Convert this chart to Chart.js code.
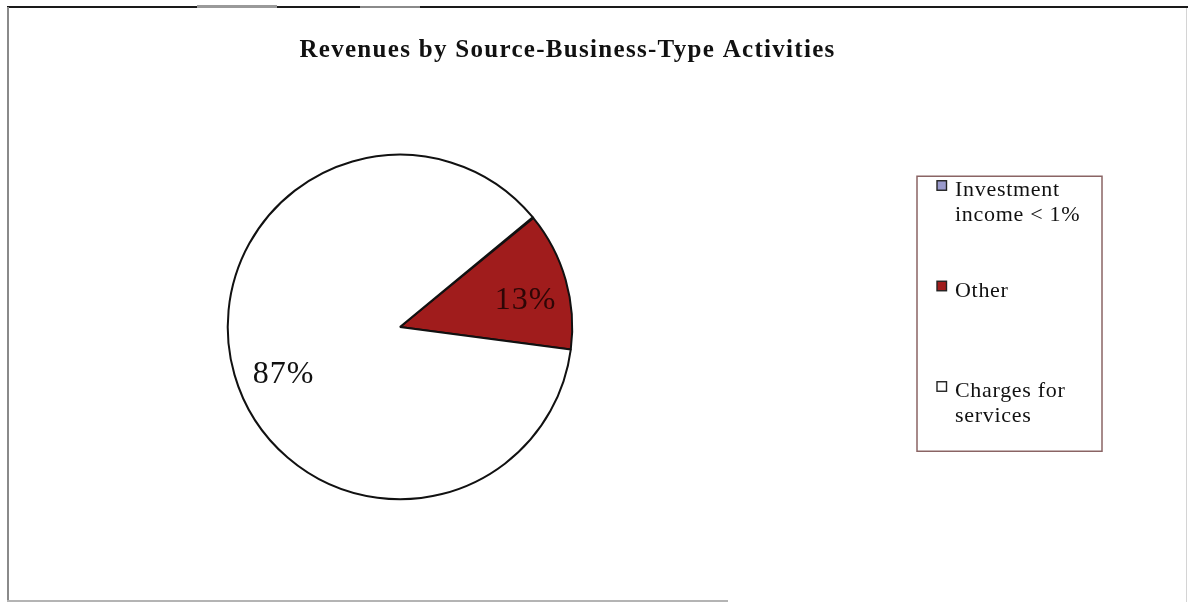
<!DOCTYPE html>
<html><head><meta charset="utf-8">
<script src="https://cdn.jsdelivr.net/npm/chart.js@4.4.1/dist/chart.umd.min.js"></script>
<style>
html,body{margin:0;padding:0;background:#fff;}
#wrap{position:relative;width:1188px;height:602px;overflow:hidden;background:#fff;}
#c{position:absolute;left:0;top:0;}
.ln{position:absolute;}
</style></head><body>
<div id="wrap">
<canvas id="c" width="1188" height="602"></canvas>
<div class="ln" style="left:7px;top:6px;width:190px;height:2px;background:#1a1a1a"></div>
<div class="ln" style="left:197px;top:5px;width:80px;height:3px;background:#9a9a9a"></div>
<div class="ln" style="left:277px;top:6px;width:83px;height:2px;background:#1a1a1a"></div>
<div class="ln" style="left:360px;top:6px;width:60px;height:2px;background:#8a8a8a"></div>
<div class="ln" style="left:420px;top:6px;width:768px;height:2px;background:#1a1a1a"></div>
<div class="ln" style="left:7px;top:7px;width:2px;height:595px;background:#8a8a8a"></div>
<div class="ln" style="left:7px;top:600px;width:721px;height:1.5px;background:#b4b4b4"></div>
<div class="ln" style="left:1186px;top:8px;width:1px;height:594px;background:#d4d4d4"></div>
</div>
<script>
// ---- data ----
const chartTitle = 'Revenues by Source-Business-Type Activities';
const categories = [['Investment', 'income < 1%'], ['Other'], ['Charges for', 'services']];
const shares = [0.1, 13, 87];
const sliceLabels = ['', '13%', '87%'];

// ---- styles ----
const sliceColors = ['#9a9acc', '#a01c1c', '#ffffff'];
const labelColors = ['#111', '#2e0606', '#111'];

Chart.defaults.font.family = '"Liberation Serif", "Times New Roman", serif';

const titleSpacing = {
  id: 'titleSpacing',
  beforeDraw(chart) { chart.ctx.letterSpacing = '1.3px'; },
  afterDraw(chart) { chart.ctx.letterSpacing = '0px'; }
};

function drawLegend(chart, box) {
  const ctx = chart.ctx;
  const fx = box.left + 125, fy = box.top + 22.5, fw = 185, fh = 275;
  const ds = chart.data.datasets[0];
  ctx.save();
  ctx.letterSpacing = '0.7px';
  ctx.strokeStyle = '#8a6464';
  ctx.lineWidth = 1.5;
  ctx.strokeRect(fx, fy, fw, fh);
  ctx.font = '22px "Liberation Serif"';
  ctx.textAlign = 'left';
  ctx.textBaseline = 'alphabetic';
  chart.data.labels.forEach((lines, i) => {
    const base = fy + 20 + i * 100.5;
    ctx.fillStyle = ds.backgroundColor[i];
    ctx.fillRect(fx + 20, base - 15.5, 9.5, 9.5);
    ctx.strokeStyle = '#222';
    ctx.lineWidth = 1.4;
    ctx.strokeRect(fx + 20, base - 15.5, 9.5, 9.5);
    ctx.fillStyle = '#111';
    lines.forEach((t, j) => ctx.fillText(t, fx + 38, base + j * 25));
  });
  ctx.restore();
}

const legendBox = {
  id: 'legendBox',
  beforeInit(chart) {
    const box = {
      position: 'right', weight: 0, fullSize: false, options: {},
      left: 0, top: 0, right: 0, bottom: 0, width: 0, height: 0,
      isHorizontal() { return false; },
      update(maxWidth, maxHeight) { this.width = 335; this.height = maxHeight; },
      draw() { drawLegend(chart, this); }
    };
    Chart.layouts.addBox(chart, box);
  }
};

const sliceLabelPlugin = {
  id: 'sliceLabels',
  afterDatasetsDraw(chart) {
    const ctx = chart.ctx;
    const meta = chart.getDatasetMeta(0);
    const nudge = [[0, 0], [3, 8], [6, 12]];
    ctx.save();
    ctx.letterSpacing = '1px';
    ctx.font = '32px "Liberation Serif"';
    ctx.textAlign = 'center';
    ctx.textBaseline = 'middle';
    meta.data.forEach((arc, i) => {
      const text = sliceLabels[i];
      if (!text) return;
      const p = arc.getProps(['x', 'y', 'startAngle', 'endAngle', 'outerRadius'], true);
      const mid = (p.startAngle + p.endAngle) / 2;
      const r = p.outerRadius * 0.74;
      ctx.fillStyle = labelColors[i];
      ctx.fillText(text, p.x + Math.cos(mid) * r + nudge[i][0], p.y + Math.sin(mid) * r + nudge[i][1]);
    });
    ctx.restore();
  }
};

new Chart(document.getElementById('c'), {
  type: 'pie',
  data: {
    labels: categories,
    datasets: [{
      data: shares,
      backgroundColor: sliceColors,
      borderColor: '#111',
      borderWidth: 2,
      hoverOffset: 0
    }]
  },
  options: {
    responsive: false,
    animation: false,
    events: [],
    rotation: 50.4,
    layout: { padding: { left: 8, right: 61, top: 0, bottom: 101.75 } },
    plugins: {
      legend: { display: false },
      tooltip: { enabled: false },
      title: {
        display: true,
        text: chartTitle,
        color: '#111',
        font: { size: 25, weight: 'bold', lineHeight: 1.2 },
        padding: { top: 36, bottom: 87.75 }
      }
    }
  },
  plugins: [titleSpacing, legendBox, sliceLabelPlugin]
});
</script>
</body></html>
